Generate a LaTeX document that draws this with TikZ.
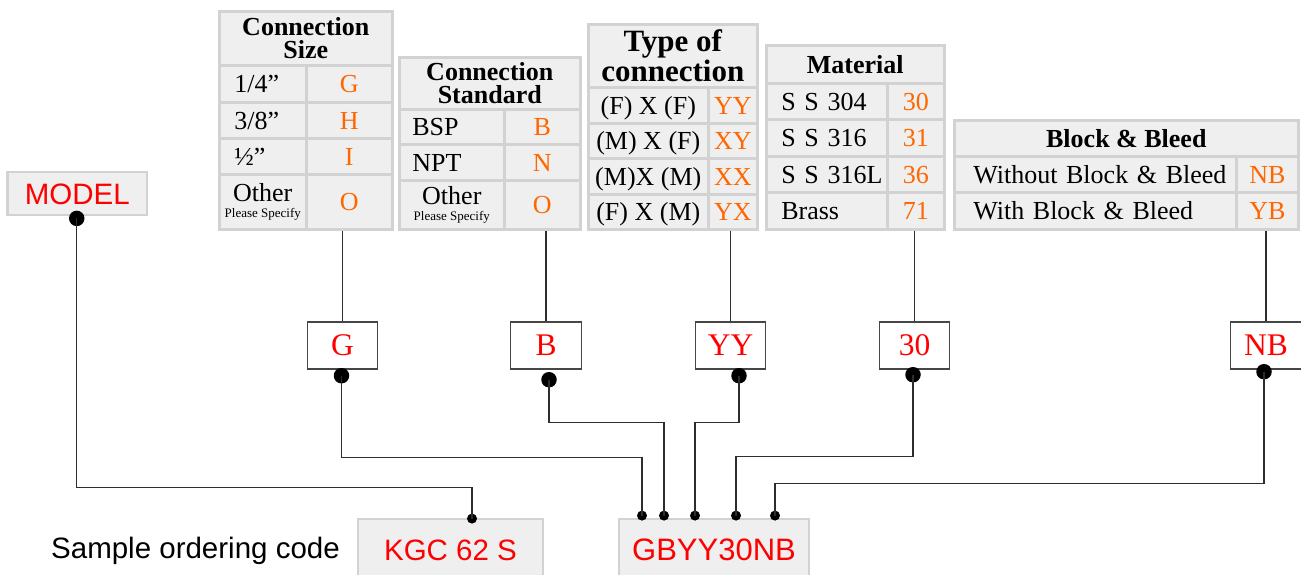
\documentclass[tikz,border=0pt]{standalone}
\usepackage{fontspec}
\setmainfont{Liberation Serif}
\newfontfamily\arialfont{Liberation Sans}
\usepackage{tikz}
\usetikzlibrary{calc}
\usepackage{xcolor}
\definecolor{cellBg}{RGB}{239, 239, 239}
\definecolor{cellEdge}{RGB}{210, 210, 210}
\definecolor{codeOrange}{RGB}{255, 102, 0}
\definecolor{codeRed}{RGB}{255, 0, 0}
\definecolor{wireC}{RGB}{45, 45, 45}
\definecolor{pickEdge}{RGB}{70, 70, 70}
\newcommand{\tabfont}{\fontsize{26}{28}\selectfont}
\newcommand{\headfont}{\bfseries\fontsize{26}{22.6}\selectfont}
\newcommand{\headbigfont}{\bfseries\fontsize{31}{28}\selectfont}
\newcommand{\othfont}{\fontsize{26}{16}\selectfont}
\newcommand{\specfont}{\fontsize{13}{15}\selectfont}
\newcommand{\codetxt}{\arialfont\fontsize{29.5}{32}\selectfont}
\newcommand{\pickfont}{\fontsize{31.5}{34}\selectfont}
\tikzset{
  cellbox/.style={draw=cellEdge, line width=2.6pt, fill=cellBg, inner sep=0pt,
                  anchor=north west, font=\tabfont},
  headcell/.style={cellbox, align=center, font=\headfont},
  codecell/.style={cellbox, text=codeOrange, text height=17.6pt, text depth=0pt},
  midcell/.style={cellbox, align=center, text height=17.6pt, text depth=0pt},
  othercell/.style={cellbox, align=center, font=\othfont},
  leftcell/.style 2 args={cellbox, text width=#1, align=left, text height=17.6pt,
                  text depth=0pt, execute at begin node={\noindent\hspace*{#2}}},
  pickbox/.style={draw=pickEdge, line width=1.4pt, fill=white, minimum width=70.5pt,
                  minimum height=47pt, text=codeRed, font=\pickfont,
                  text height=20.9pt, text depth=0pt, inner sep=0pt},
  codebox/.style={draw=cellEdge, line width=2.8pt, fill=cellBg, text=codeRed,
                  font=\codetxt, text height=21pt, text depth=0pt, inner sep=0pt},
  bigdot/.style={circle, fill=black, inner sep=0pt, minimum size=15.5pt},
  portdot/.style={circle, fill=black, inner sep=0pt, minimum size=10pt},
  wire/.style={draw=wireC, line width=1.3pt}
}
\begin{document}
\begin{tikzpicture}[x=1pt, y=-1pt]
  \useasboundingbox (0,0) rectangle (1301,575);
  \clip (0,0) rectangle (1301,575);

  % Connection size
  \node[headcell, minimum width=173pt, minimum height=54pt] (sizehd) at (218,10) {Connection\\Size};
  \node[leftcell={87pt}{15pt}, minimum height=37pt] (size1) at (218,64) {1/4”};
  \node[codecell, minimum width=86pt, minimum height=37pt] (sizeG) at (305,64) {G};
  \node[leftcell={87pt}{15pt}, minimum height=36pt] (size2) at (218,101) {3/8”};
  \node[codecell, minimum width=86pt, minimum height=36pt] (sizeH) at (305,101) {H};
  \node[leftcell={87pt}{15pt}, minimum height=36pt] (size3) at (218,137) {½”};
  \node[codecell, minimum width=86pt, minimum height=36pt] (sizeI) at (305,137) {I};
  \node[othercell, minimum width=87pt, minimum height=55pt] (size4) at (218,173)
    {Other\\{\specfont Please Specify}};
  \node[codecell, minimum width=86pt, minimum height=55pt] (sizeO) at (305,173) {O};

  % Connection standard
  \node[headcell, minimum width=181pt, minimum height=52pt] (stdhd) at (398,56) {Connection\\Standard};
  \node[leftcell={105pt}{13pt}, minimum height=35pt] (std1) at (398,108) {BSP};
  \node[codecell, minimum width=76pt, minimum height=35pt] (stdB) at (503,108) {B};
  \node[leftcell={105pt}{13pt}, minimum height=36pt] (std2) at (398,143) {NPT};
  \node[codecell, minimum width=76pt, minimum height=36pt] (stdN) at (503,143) {N};
  \node[othercell, minimum width=105pt, minimum height=49pt] (std3) at (398,179)
    {Other\\{\specfont Please Specify}};
  \node[codecell, minimum width=76pt, minimum height=49pt] (stdO) at (503,179) {O};

  % Type of connection
  \node[headcell, font=\headbigfont, minimum width=169pt, minimum height=63pt] (typehd) at (587,23)
    {Type of\\connection};
  \node[midcell, minimum width=120pt, minimum height=36pt] (type1) at (587,86) {(F) X (F)};
  \node[codecell, minimum width=49pt, minimum height=36pt] (typeYY) at (707,86) {YY};
  \node[midcell, minimum width=120pt, minimum height=35pt] (type2) at (587,122) {(M) X (F)};
  \node[codecell, minimum width=49pt, minimum height=35pt] (typeXY) at (707,122) {XY};
  \node[midcell, minimum width=120pt, minimum height=36pt] (type3) at (587,157) {(M)X (M)};
  \node[codecell, minimum width=49pt, minimum height=36pt] (typeXX) at (707,157) {XX};
  \node[midcell, minimum width=120pt, minimum height=35pt] (type4) at (587,193) {(F) X (M)};
  \node[codecell, minimum width=49pt, minimum height=35pt] (typeYX) at (707,193) {YX};

  % Material
  \node[headcell, text height=17.6pt, text depth=0pt, minimum width=178pt, minimum height=38pt]
    (mathd) at (765,44) {Material};
  \node[leftcell={121pt}{15pt}, minimum height=36pt] (mat1) at (765,82) {S S 304};
  \node[codecell, minimum width=57pt, minimum height=36pt] (mat30) at (886,82) {30};
  \node[leftcell={121pt}{15pt}, minimum height=37pt] (mat2) at (765,118) {S S 316};
  \node[codecell, minimum width=57pt, minimum height=37pt] (mat31) at (886,118) {31};
  \node[leftcell={121pt}{15pt}, minimum height=36pt] (mat3) at (765,155) {S S 316L};
  \node[codecell, minimum width=57pt, minimum height=36pt] (mat36) at (886,155) {36};
  \node[leftcell={121pt}{15pt}, minimum height=37pt] (mat4) at (765,191) {Brass};
  \node[codecell, minimum width=57pt, minimum height=37pt] (mat71) at (886,191) {71};

  % Block & bleed
  \node[headcell, text height=17.6pt, text depth=0pt, minimum width=344pt, minimum height=36pt]
    (bbhd) at (953,119) {Block \& Bleed};
  \node[leftcell={282pt}{19pt}, minimum height=36pt] (bb1) at (953,155) {Without Block \& Bleed};
  \node[codecell, minimum width=62pt, minimum height=36pt] (bbNB) at (1235,155) {NB};
  \node[leftcell={282pt}{19pt}, minimum height=37pt] (bb2) at (953,191) {With Block \& Bleed};
  \node[codecell, minimum width=62pt, minimum height=37pt] (bbYB) at (1235,191) {YB};

  % picked codes
  \node[pickbox] (gpick) at (342.5,345.5) {G};
  \node[pickbox] (bpick) at (546,345.5) {B};
  \node[pickbox] (yypick) at (730.5,345.5) {YY};
  \node[pickbox] (mpick) at (914.5,345.5) {30};
  \node[pickbox] (nbpick) at (1266,345.5) {NB};

  \draw[wire] (sizeO.south -| gpick.north) -- (gpick.north);
  \draw[wire] (stdO.south -| bpick.north) -- (bpick.north);
  \draw[wire] (typeYX.south -| yypick.north) -- (yypick.north);
  \draw[wire] (mat71.south -| mpick.north) -- (mpick.north);
  \draw[wire] (bbYB.south -| nbpick.north) -- (nbpick.north);

  % model and ordering codes
  \node[codebox, minimum width=139.5pt, minimum height=43pt] (model) at (77.25,193.5) {MODEL};
  \node[codebox, minimum width=185pt, minimum height=62pt] (kgc) at (450.5,550) {KGC 62 S};
  \node[codebox, font=\codetxt\fontsize{31}{33}\selectfont, minimum width=190pt, minimum height=62pt]
    (gbyy) at (714,550) {GBYY30NB};
  \node[font=\codetxt, anchor=base east, inner sep=0pt] (sample) at (340,558) {Sample ordering code};

  \node[bigdot] (modeldot) at ($(model.south)+(-0.5,2)$) {};
  \node[bigdot] (gdot) at ($(gpick.south)+(-1,6)$) {};
  \node[bigdot] (bdot) at ($(bpick.south)+(3,10)$) {};
  \node[bigdot] (yydot) at ($(yypick.south)+(8.5,6)$) {};
  \node[bigdot] (mdot) at ($(mpick.south)+(-1.5,5)$) {};
  \node[bigdot] (nbdot) at ($(nbpick.south)+(-2,2)$) {};

  \node[portdot] (kgcport) at ($(kgc.north)+(21.5,1)$) {};
  \node[portdot] (gport) at ($(gbyy.north)+(-72,-2)$) {};
  \node[portdot] (bport) at ($(gbyy.north)+(-50,-2)$) {};
  \node[portdot] (yyport) at ($(gbyy.north)+(-19,-2)$) {};
  \node[portdot] (mport) at ($(gbyy.north)+(22,-2)$) {};
  \node[portdot] (nbport) at ($(gbyy.north)+(61,-2)$) {};

  \draw[wire] (modeldot.center) -- ++(0,269) -| (kgcport.center);
  \draw[wire] (gdot.center) -- ++(0,82) -| (gport.center);
  \draw[wire] (bdot.center) -- ++(0,43) -| (bport.center);
  \draw[wire] (yydot.center) -- ++(0,47) -| (yyport.center);
  \draw[wire] (mdot.center) -- ++(0,82) -| (mport.center);
  \draw[wire] (nbdot.center) -- ++(0,112) -| (nbport.center);
\end{tikzpicture}
\end{document}
